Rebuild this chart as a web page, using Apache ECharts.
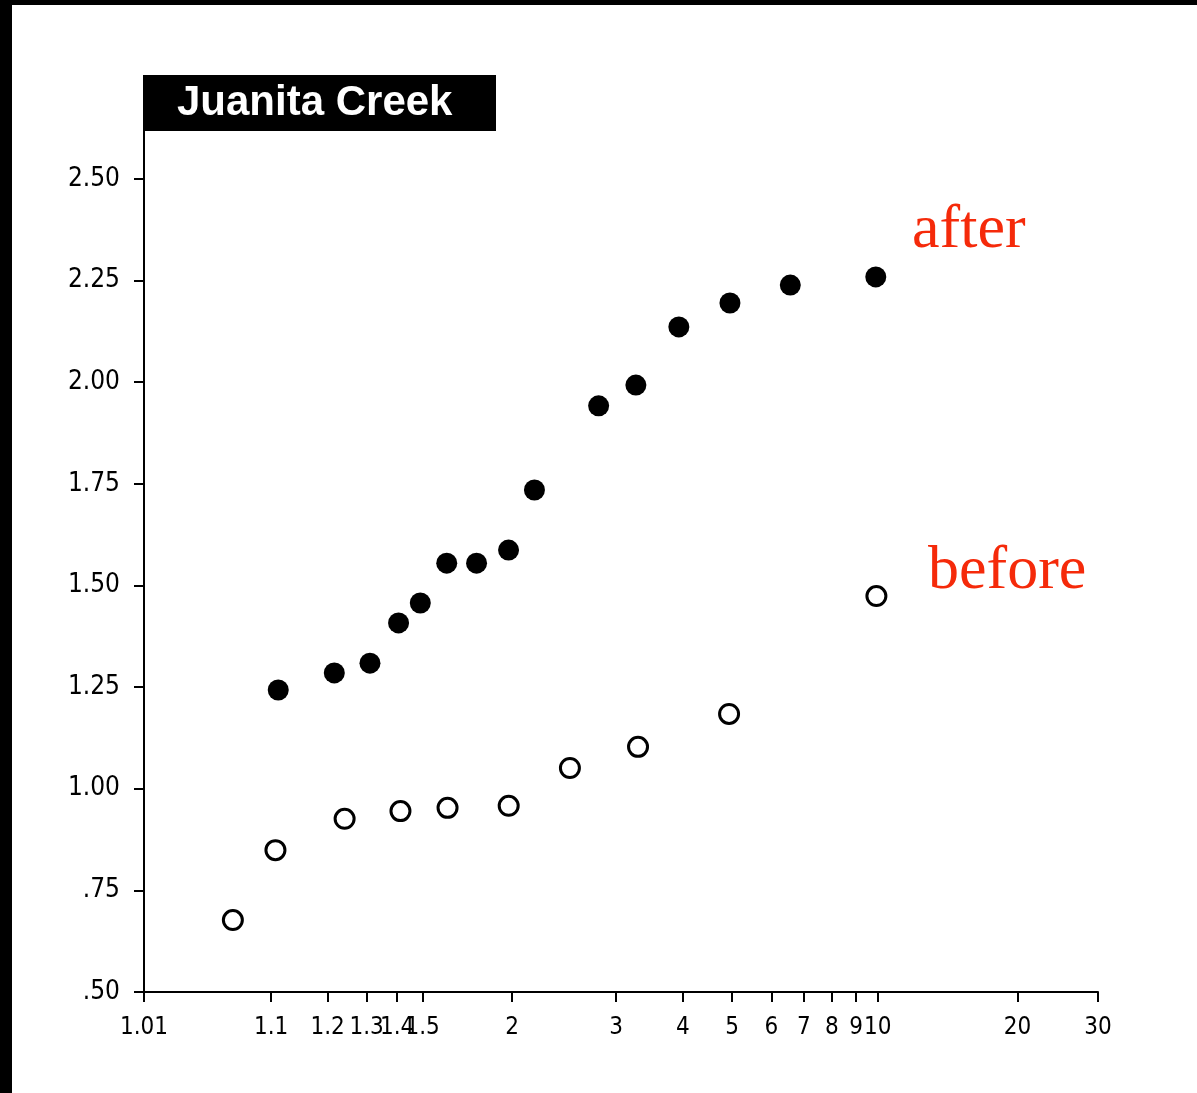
<!DOCTYPE html>
<html>
<head>
<meta charset="utf-8">
<title>Juanita Creek</title>
<script src="https://cdn.jsdelivr.net/npm/echarts@6/dist/echarts.min.js"></script>
<style>
  html, body { margin: 0; padding: 0; background: #fff; }
  #chart { width: 1197px; height: 1093px; }
</style>
</head>
<body>
<div id="chart"></div>
<script>
// return period (years) and value
const afterPeriod = [1.11, 1.215, 1.31, 1.405, 1.49, 1.61, 1.77, 1.975, 2.17, 2.79, 3.26, 3.93, 4.95, 6.56, 9.9];
const afterValue = [1.243, 1.285, 1.309, 1.408, 1.457, 1.555, 1.555, 1.587, 1.735, 1.942, 1.993, 2.136, 2.195, 2.239, 2.259];

const beforePeriod = [1.057, 1.106, 1.24, 1.412, 1.614, 1.976, 2.486, 3.29, 4.93, 9.93];
const beforeValue = [0.677, 0.849, 0.926, 0.945, 0.953, 0.958, 1.051, 1.103, 1.184, 1.474];

const xTicks = [1.01, 1.1, 1.2, 1.3, 1.4, 1.5, 2, 3, 4, 5, 6, 7, 8, 9, 10, 20, 30];
const xTickLabels = ["1.01", "1.1", "1.2", "1.3", "1.4", "1.5", "2", "3", "4", "5", "6", "7", "8", "9", "10", "20", "30"];
const yTicks = [0.5, 0.75, 1.0, 1.25, 1.5, 1.75, 2.0, 2.25, 2.5];
const yTickLabels = [".50", ".75", "1.00", "1.25", "1.50", "1.75", "2.00", "2.25", "2.50"];

// gumbel reduced variate, so the probability paper x scale becomes linear
function gumbel(T) {
  return -Math.log(-Math.log(1 - 1 / T));
}

function pairs(periods, values) {
  return periods.map((T, i) => [gumbel(T), values[i]]);
}

const xTickPos = xTicks.map(gumbel);

function xLabel(v) {
  let best = 0;
  for (let i = 1; i < xTickPos.length; i++) {
    if (Math.abs(xTickPos[i] - v) < Math.abs(xTickPos[best] - v)) best = i;
  }
  return xTickLabels[best];
}

function yLabel(v) {
  const i = yTicks.findIndex(t => Math.abs(t - v) < 1e-6);
  return i >= 0 ? yTickLabels[i] : "";
}

const tickFont = "'DejaVu Sans Condensed', 'Liberation Sans', sans-serif";

const option = {
  backgroundColor: "#fff",
  animation: false,
  grid: {
    left: 144,
    right: 99,
    top: 131,
    bottom: 101
  },
  xAxis: {
    type: "value",
    min: gumbel(1.01),
    max: gumbel(30),
    splitLine: { show: false },
    axisLine: { onZero: false, lineStyle: { color: "#000", width: 2 } },
    axisTick: { customValues: xTickPos, length: 10, lineStyle: { color: "#000", width: 2 } },
    axisLabel: {
      customValues: xTickPos,
      formatter: xLabel,
      margin: 24,
      color: "#000",
      fontFamily: tickFont,
      fontSize: 24
    }
  },
  yAxis: {
    type: "value",
    min: 0.5,
    max: 2.618,
    splitLine: { show: false },
    axisLine: { show: true, onZero: false, lineStyle: { color: "#000", width: 2 } },
    axisTick: { show: true, customValues: yTicks, length: 10, lineStyle: { color: "#000", width: 2 } },
    axisLabel: {
      customValues: yTicks,
      formatter: yLabel,
      margin: 24,
      color: "#000",
      fontFamily: tickFont,
      fontSize: 26
    }
  },
  series: [
    {
      name: "after",
      type: "scatter",
      symbol: "circle",
      symbolSize: 21,
      data: pairs(afterPeriod, afterValue),
      itemStyle: { color: "#000", opacity: 1 }
    },
    {
      name: "before",
      type: "scatter",
      symbol: "circle",
      symbolSize: 19,
      data: pairs(beforePeriod, beforeValue),
      itemStyle: { color: "#fff", borderColor: "#000", borderWidth: 3, opacity: 1 }
    }
  ],
  graphic: [
    // black frame on the left and top edges of the scan
    { type: "rect", left: 0, top: 0, shape: { width: 12, height: 1093 }, style: { fill: "#000" } },
    { type: "rect", left: 0, top: 0, shape: { width: 1197, height: 5 }, style: { fill: "#000" } },
    // title box
    { type: "rect", left: 143, top: 75, shape: { width: 353, height: 56 }, style: { fill: "#000" }, z: 10 },
    {
      type: "text", left: 177, top: 82, z: 11,
      style: {
        text: "Juanita Creek",
        fill: "#fff",
        font: "bold 42px 'Liberation Sans', Arial, sans-serif"
      }
    },
    {
      type: "text", left: 912, top: 200, z: 11,
      style: { text: "after", fill: "#f52a0a", font: "62px 'Liberation Serif', 'Times New Roman', serif" }
    },
    {
      type: "text", left: 928, top: 541, z: 11,
      style: { text: "before", fill: "#f52a0a", font: "62px 'Liberation Serif', 'Times New Roman', serif" }
    }
  ]
};

const chart = echarts.init(document.getElementById("chart"));
chart.setOption(option);
</script>
</body>
</html>
